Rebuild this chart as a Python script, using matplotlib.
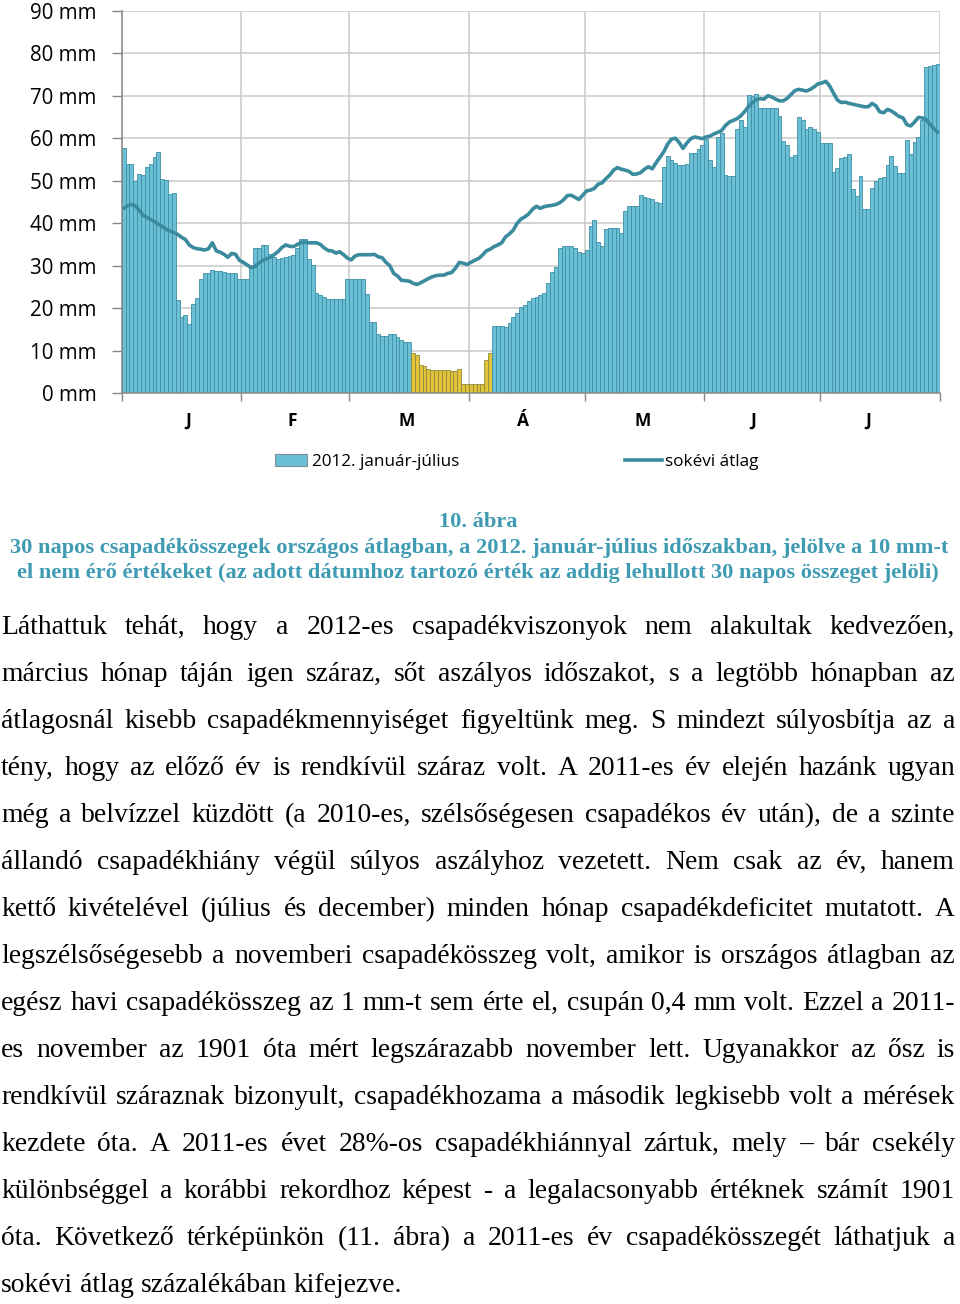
import numpy as np
import matplotlib
matplotlib.use("Agg")
import matplotlib.pyplot as plt
from matplotlib.patches import Patch
from matplotlib.lines import Line2D
from matplotlib.font_manager import FontProperties

# ---------------- data ----------------
month_names = ["J", "F", "M", "Á", "M", "J", "J"]
month_days = [31, 28, 31, 30, 31, 30, 31]

# 30-day precipitation totals, 2012 Jan-Jul (mm)
precip_2012 = [
    57.8, 54.0, 54.0, 50.0, 51.7, 51.3, 53.3, 53.9, 55.5, 56.7,
    50.5, 50.2, 46.8, 47.0, 21.9, 18.0, 18.4, 16.2, 20.9, 22.5,
    26.8, 28.4, 28.4, 29.0, 28.8, 28.8, 28.6, 28.4, 28.4, 28.2,
    27.0, 27.0, 27.0, 29.5, 34.2, 34.2, 34.9, 34.9, 32.8, 32.1,
    31.6, 31.9, 32.1, 32.4, 32.6, 34.1, 36.2, 36.4, 31.7, 30.2,
    23.7, 23.1, 22.6, 22.3, 22.3, 22.1, 22.1, 22.3, 26.8, 26.8,
    26.8, 26.8, 26.8, 23.3, 16.8, 16.8, 13.9, 13.5, 13.5, 13.9,
    13.9, 13.3, 12.5, 12.1, 12.1, 9.4, 8.9, 6.7, 6.4, 5.6,
    5.5, 5.5, 5.5, 5.5, 5.5, 5.3, 5.3, 5.6, 2.2, 2.2,
    2.2, 2.2, 2.2, 2.2, 7.8, 9.4, 15.9, 15.9, 15.9, 15.7,
    16.5, 18.0, 19.0, 20.4, 20.8, 21.6, 22.5, 22.7, 23.1, 23.7,
    25.9, 28.6, 29.8, 34.1, 34.6, 34.6, 34.6, 34.1, 33.3, 33.1,
    33.7, 39.4, 40.8, 35.7, 34.6, 38.6, 38.9, 38.9, 38.9, 37.8,
    42.9, 44.0, 44.0, 44.0, 46.6, 46.1, 45.9, 45.6, 45.1, 44.7,
    53.3, 55.8, 54.8, 54.1, 53.7, 53.7, 53.9, 56.6, 56.6, 57.4,
    58.4, 59.8, 54.9, 53.3, 60.3, 61.3, 51.3, 51.1, 51.1, 62.2,
    64.4, 62.7, 70.1, 69.9, 70.5, 67.0, 67.0, 67.0, 67.0, 67.0,
    65.2, 59.3, 58.4, 55.6, 56.0, 64.9, 64.4, 62.1, 62.6, 62.2,
    61.4, 58.9, 58.8, 58.9, 52.1, 53.1, 55.3, 55.5, 56.4, 48.0,
    46.5, 51.1, 43.3, 43.3, 48.4, 49.9, 50.7, 50.9, 53.7, 55.8,
    53.4, 51.9, 51.9, 59.6, 56.3, 59.0, 60.2, 64.3, 76.8, 77.0,
    77.2, 77.4,
]

# long-term average of 30-day totals (mm)
longterm_avg = [
    43.5, 44.1, 44.4, 44.1, 43.1, 41.9, 41.4, 40.9, 40.4, 39.8,
    39.2, 38.6, 38.2, 37.8, 37.4, 36.7, 36.2, 34.9, 34.3, 34.0,
    33.9, 33.7, 34.0, 35.4, 33.5, 33.2, 32.7, 32.0, 32.9, 32.7,
    31.3, 30.8, 30.2, 29.6, 29.8, 30.6, 31.2, 31.6, 32.0, 32.6,
    33.3, 34.3, 34.9, 34.6, 34.5, 35.0, 35.5, 35.6, 35.4, 35.4,
    35.4, 35.0, 34.2, 33.6, 33.5, 33.0, 33.3, 32.6, 31.8, 31.4,
    32.3, 32.6, 32.6, 32.6, 32.6, 32.7, 32.1, 31.9, 30.8, 30.0,
    28.2, 27.6, 26.6, 26.5, 26.4, 25.9, 25.6, 26.0, 26.5, 27.0,
    27.4, 27.7, 27.8, 27.8, 28.2, 28.4, 29.4, 30.8, 30.6, 30.3,
    30.8, 31.3, 31.7, 32.5, 33.5, 33.9, 34.5, 34.9, 35.4, 36.8,
    37.5, 38.4, 40.0, 41.0, 41.5, 42.2, 43.3, 44.0, 43.5, 43.9,
    44.1, 44.2, 44.4, 44.8, 45.5, 46.5, 46.6, 46.1, 45.6, 46.6,
    47.6, 47.8, 48.2, 49.2, 49.5, 50.5, 51.3, 52.5, 53.1, 52.7,
    52.5, 52.2, 51.5, 51.6, 51.9, 52.7, 53.3, 52.8, 54.2, 55.5,
    56.8, 58.6, 59.8, 60.0, 59.0, 57.6, 58.9, 59.9, 60.3, 60.1,
    59.9, 60.3, 60.5, 61.0, 61.4, 61.8, 63.0, 63.8, 64.2, 64.6,
    65.3, 66.3, 67.5, 68.4, 69.1, 69.3, 69.2, 70.0, 69.7, 69.2,
    68.8, 68.8, 69.4, 70.3, 71.2, 71.5, 71.3, 71.1, 71.5, 72.1,
    72.8, 73.0, 73.4, 72.3, 70.6, 69.0, 68.4, 68.5, 68.2, 68.0,
    67.8, 67.6, 67.4, 67.4, 68.2, 67.6, 66.2, 66.0, 66.8, 66.4,
    65.8, 65.1, 64.8, 63.2, 62.9, 63.8, 64.9, 64.8, 64.4, 63.3,
    62.3, 61.4,
]

dry_threshold = 10
y_ticks = [0, 10, 20, 30, 40, 50, 60, 70, 80, 90]
y_tick_labels = [f"{v} mm" for v in y_ticks]
series_names = ["2012. január-július", "sokévi átlag"]

caption_lines = [
    "10. ábra",
    "30 napos csapadékösszegek országos átlagban, a 2012. január-július időszakban, jelölve a 10 mm-t",
    "el nem érő értékeket (az adott dátumhoz tartozó érték az addig lehullott 30 napos összeget jelöli)",
]

body_lines = [
    "Láthattuk tehát, hogy a 2012-es csapadékviszonyok nem alakultak kedvezően,",
    "március hónap táján igen száraz, sőt aszályos időszakot, s a legtöbb hónapban az",
    "átlagosnál kisebb csapadékmennyiséget figyeltünk meg. S mindezt súlyosbítja az a",
    "tény, hogy az előző év is rendkívül száraz volt. A 2011-es év elején hazánk ugyan",
    "még a belvízzel küzdött (a 2010-es, szélsőségesen csapadékos év után), de a szinte",
    "állandó csapadékhiány végül súlyos aszályhoz vezetett. Nem csak az év, hanem",
    "kettő kivételével (július és december) minden hónap csapadékdeficitet mutatott. A",
    "legszélsőségesebb a novemberi csapadékösszeg volt, amikor is országos átlagban az",
    "egész havi csapadékösszeg az 1 mm-t sem érte el, csupán 0,4 mm volt. Ezzel a 2011-",
    "es november az 1901 óta mért legszárazabb november lett. Ugyanakkor az ősz is",
    "rendkívül száraznak bizonyult, csapadékhozama a második legkisebb volt a mérések",
    "kezdete óta. A 2011-es évet 28%-os csapadékhiánnyal zártuk, mely – bár csekély",
    "különbséggel a korábbi rekordhoz képest - a legalacsonyabb értéknek számít 1901",
    "óta. Következő térképünkön (11. ábra) a 2011-es év csapadékösszegét láthatjuk a",
    "sokévi átlag százalékában kifejezve.",
]

# ---------------- style / layout ----------------
W, H = 960, 1304
BLUE_FILL = "#6cc0d6"
BLUE_EDGE = "#3d8ea5"
YEL_FILL = "#e2c33a"
YEL_EDGE = "#8e8a3a"
LINE_C = "#3a8b9e"
GRID_C = "#c9c9c9"
AXIS_C = "#878787"
CAPTION_C = "#3e9bb2"

AX_L, AX_R, AX_T, AX_B = 121.7, 939.6, 10.7, 393.3
month_label_pos = [17.2, 44.1, 73.9, 104.0, 135.1, 163.6, 193.4]

fig = plt.figure(figsize=(W / 100, H / 100), dpi=100)
fig.patch.set_facecolor("white")
ax = fig.add_axes([AX_L / W, 1 - AX_B / H, (AX_R - AX_L) / W, (AX_B - AX_T) / H])

n = len(precip_2012)
xs = np.arange(n) + 0.5
fills = [YEL_FILL if v < dry_threshold else BLUE_FILL for v in precip_2012]
edges = [YEL_EDGE if v < dry_threshold else BLUE_EDGE for v in precip_2012]
ax.bar(xs, precip_2012, width=1.0, color=fills, edgecolor=edges,
       linewidth=0.6, zorder=2)
ax.plot(xs, longterm_avg, color=LINE_C, lw=2.6, zorder=3,
        solid_joinstyle="round", solid_capstyle="round")

ax.set_xlim(0, n)
ax.set_ylim(0, 90)
bounds = np.concatenate([[0], np.cumsum(month_days)])
ax.set_xticks(bounds)
ax.set_xticklabels([""] * len(bounds))
ax.set_xticks(month_label_pos, minor=True)
ax.set_xticklabels(month_names, minor=True,
                   fontproperties=FontProperties(family="Open Sans", weight="bold", size=12.5))
ax.tick_params(axis="x", which="major", length=6, width=1.0, color=AXIS_C, direction="out")
ax.tick_params(axis="x", which="minor", length=0, pad=13.5)

ax.set_yticks(y_ticks)
ax.set_yticklabels(y_tick_labels, fontproperties=FontProperties(family="Open Sans", size=14.8))
ax.tick_params(axis="y", length=7, width=1.0, color=AXIS_C, pad=11.0, direction="out")

ax.grid(True, which="major", axis="both", color=GRID_C, lw=1.1)
ax.set_axisbelow(True)
for s in ["top", "right"]:
    ax.spines[s].set_visible(False)
for s in ["left", "bottom"]:
    ax.spines[s].set_color(AXIS_C)
    ax.spines[s].set_linewidth(1.1)
    ax.spines[s].set_zorder(4)

# ---------------- legend ----------------
fp_leg = FontProperties(family="Open Sans", size=12.3)
fs_px = 12.3 * 100 / 72
h1 = Patch(facecolor=BLUE_FILL, edgecolor="#7f9098", linewidth=0.8)
fig.legend([h1], [series_names[0]], loc="center left",
           bbox_to_anchor=(275 / W, 1 - 462 / H), frameon=False, prop=fp_leg,
           handlelength=32 / fs_px, handleheight=0.75, handletextpad=5 / fs_px,
           borderpad=0, borderaxespad=0)
h2 = Line2D([], [], color=LINE_C, lw=2.6)
fig.legend([h2], [series_names[1]], loc="center left",
           bbox_to_anchor=(625 / W, 1 - 462 / H), frameon=False, prop=fp_leg,
           handlelength=37 / fs_px, handletextpad=3 / fs_px,
           borderpad=0, borderaxespad=0)

# ---------------- text helpers ----------------
renderer = fig.canvas.get_renderer()


def text_w(s, fp):
    w, h, d = renderer.get_text_width_height_descent(s, fp, ismath=False)
    return w


def natural_width(line, fp):
    words = line.split(" ")
    sp = text_w("a a", fp) - text_w("aa", fp)
    return sum(text_w(w, fp) for w in words) + (len(words) - 1) * sp


# caption
cap_size = 15.0
fp_cap = FontProperties(family="Liberation Serif", weight="bold", size=cap_size)
wcap = text_w(caption_lines[1], fp_cap)
cap_size = cap_size * 938.0 / wcap
fp_cap = FontProperties(family="Liberation Serif", weight="bold", size=cap_size)
cap_centers = [478, 479, 478]
cap_baselines = [527, 553, 578]
for line, cx, by in zip(caption_lines, cap_centers, cap_baselines):
    fig.text(cx / W, 1 - by / H, line, ha="center", va="baseline",
             fontproperties=fp_cap, color=CAPTION_C)

# body text, justified
body_size = 20.0
X0, X1 = 1.0, 955.0
fp_b = FontProperties(family="Liberation Serif", size=body_size)
maxw = max(natural_width(l, fp_b) for l in body_lines[:-1])
if maxw > 0.985 * (X1 - X0):
    body_size = body_size * 0.985 * (X1 - X0) / maxw
fp_b = FontProperties(family="Liberation Serif", size=body_size)
space_w = text_w("a a", fp_b) - text_w("aa", fp_b)

base0, step = 634.0, 47.0
for i, line in enumerate(body_lines):
    by = base0 + step * i
    words = line.split(" ")
    widths = [text_w(w, fp_b) for w in words]
    if i < len(body_lines) - 1 and len(words) > 1:
        gap = ((X1 - X0) - sum(widths)) / (len(words) - 1)
    else:
        gap = space_w
    x = X0
    for w, wd in zip(words, widths):
        fig.text(x / W, 1 - by / H, w, ha="left", va="baseline",
                 fontproperties=fp_b, color="black")
        x += wd + gap

fig.savefig("out.png", dpi=100, facecolor="white")
